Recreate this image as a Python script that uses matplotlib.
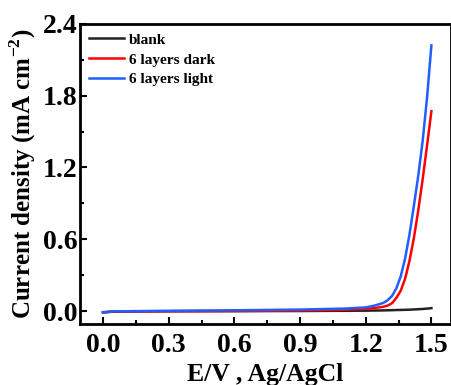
import matplotlib
matplotlib.use('Agg')
import matplotlib.pyplot as plt
from matplotlib.ticker import MultipleLocator

plt.rcParams['font.family'] = 'Liberation Serif'
plt.rcParams['font.weight'] = 'bold'
plt.rcParams['mathtext.fontset'] = 'custom'
plt.rcParams['mathtext.rm'] = 'Liberation Serif:bold'
plt.rcParams['mathtext.bf'] = 'Liberation Serif:bold'

# potential (V vs Ag/AgCl)
volts = [0.0, 0.05, 0.3, 0.6, 0.9, 1.1, 1.20, 1.24, 1.28, 1.30, 1.32, 1.34,
         1.36, 1.38, 1.40, 1.42, 1.44, 1.46, 1.48, 1.50]

# current density (mA cm-2)
blank = [-0.01, -0.004, -0.002, -0.001, 0.0, 0.002, 0.003, 0.004, 0.005, 0.006,
         0.007, 0.008, 0.009, 0.010, 0.011, 0.013, 0.015, 0.017, 0.020, 0.024]
dark = [-0.012, -0.005, -0.002, 0.0, 0.004, 0.010, 0.018, 0.025, 0.035, 0.045,
        0.065, 0.11, 0.17, 0.27, 0.42, 0.61, 0.84, 1.10, 1.38, 1.67]
light = [-0.012, -0.003, 0.002, 0.006, 0.012, 0.020, 0.030, 0.045, 0.067, 0.090,
         0.125, 0.19, 0.29, 0.44, 0.64, 0.88, 1.13, 1.42, 1.78, 2.22]

fig = plt.figure(figsize=(4.52, 3.85), dpi=100)
ax = fig.add_axes([0.177, 0.158, 0.821, 0.78])

ax.plot(volts, blank, color='#222222', lw=1.8, label='blank')
ax.plot(volts, dark, color='#ff0000', lw=1.8, label='6 layers dark')
ax.plot(volts, light, color='#1f5fff', lw=1.8, label='6 layers light')

ax.set_xlim(-0.105, 1.59)
ax.set_ylim(-0.11, 2.4)
ax.xaxis.set_major_locator(MultipleLocator(0.3))
ax.xaxis.set_minor_locator(MultipleLocator(0.15))
ax.yaxis.set_major_locator(MultipleLocator(0.6))
ax.yaxis.set_minor_locator(MultipleLocator(0.3))
ax.xaxis.set_major_formatter(plt.FuncFormatter(lambda v, p: f'{v:.1f}'))
ax.yaxis.set_major_formatter(plt.FuncFormatter(lambda v, p: f'{v:.1f}'))
ax.tick_params(which='both', direction='in', width=1.5, labelsize=20)
ax.tick_params(which='major', length=5)
ax.tick_params(which='minor', length=3)
ax.tick_params(axis='x', which='major', pad=6)
ax.tick_params(axis='y', which='major', pad=2)
for s in ax.spines.values():
    s.set_linewidth(2)

ax.set_xlabel('E/V , Ag/AgCl', fontsize=18.5, fontweight='bold', labelpad=4)
ax.set_ylabel(r'Current density (mA cm$^{\mathbf{-2}}$)', fontsize=18,
              fontweight='bold', labelpad=3)

ax.legend(loc='upper left', frameon=False, prop={'size': 11, 'weight': 'bold'},
          handlelength=2.3, handletextpad=0.3, labelspacing=0.4,
          borderaxespad=0.2)

fig.savefig('out.png', dpi=100)
